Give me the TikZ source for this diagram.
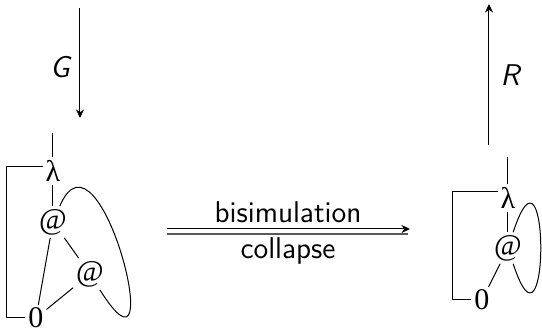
\documentclass[tikz,border=0pt]{standalone}
\usepackage{amsmath,amssymb}
\usepackage{fontspec}
\newfontfamily\vertfont{Liberation Serif}
\usetikzlibrary{arrows.meta,positioning,calc}

\begin{document}
\begin{tikzpicture}[x=0.4pt,y=-0.4pt,>={Stealth[length=3.4pt,width=3.2pt]},
    vert/.style={inner sep=1pt,font=\large\vertfont},
    lbl/.style={inner sep=1pt,font=\large\sffamily}]
  \useasboundingbox (0,0) rectangle (542,333);
  % ---- left graph ----
  \node[vert] (lamL) at (53,171) {λ};
  \node[vert] (appA) at (53,222) {@};
  \node[vert] (appB) at (90,274) {@};
  \node[vert] (zeroL) at (36,318) {0};
  \coordinate (rootL) at (53,133);
  \coordinate (brkL) at (7,167);
  \draw (rootL)--(lamL); \draw (lamL)--(appA); \draw (appA)--(appB);
  \draw (appA)--(zeroL); \draw (appB)--(zeroL);
  \draw (lamL.west |- brkL)--(brkL) |- (zeroL.west);
  \draw (appA) .. controls (100,112) and (172,405) .. (appB);
  % ---- right graph ----
  \node[vert] (lamR) at (508,198) {λ};
  \node[vert] (appR) at (508,248) {@};
  \node[vert] (zeroR) at (482,300) {0};
  \coordinate (rootR) at (508,157);
  \coordinate (brkR) at (453,192);
  \draw (rootR)--(lamR); \draw (lamR)--(appR); \draw (appR)--(zeroR);
  \draw (lamR.west |- brkR)--(brkR) |- (zeroR.west);
  \draw (appR) .. controls (550,120) and (550,376) .. (appR);
  % ---- G and R ----
  \coordinate (gTop) at (80,8); \coordinate (gBot) at (80,118);
  \draw[->] (gTop)--(gBot);
  \node[lbl,font=\large\sffamily\itshape] (gLbl) at (60,67) {G};
  \coordinate (rBot) at (489,145); \coordinate (rTop) at (489,4);
  \draw[->] (rBot)--(rTop);
  \node[lbl,font=\large\sffamily\itshape] (rLbl) at (510,75) {R};
  % ---- collapse arrow ----
  \coordinate (cA) at (167,229); \coordinate (cB) at (410,229);
  \coordinate (cC) at (167,234); \coordinate (cD) at (408,234);
  \draw[->] (cA)--(cB); \draw[gray!70!black,semithick] (cC)--(cD);
  \node[lbl] (bisim) at (288,212) {bisimulation};
  \node[lbl] (coll) at (288,251) {collapse};
\end{tikzpicture}
\end{document}
